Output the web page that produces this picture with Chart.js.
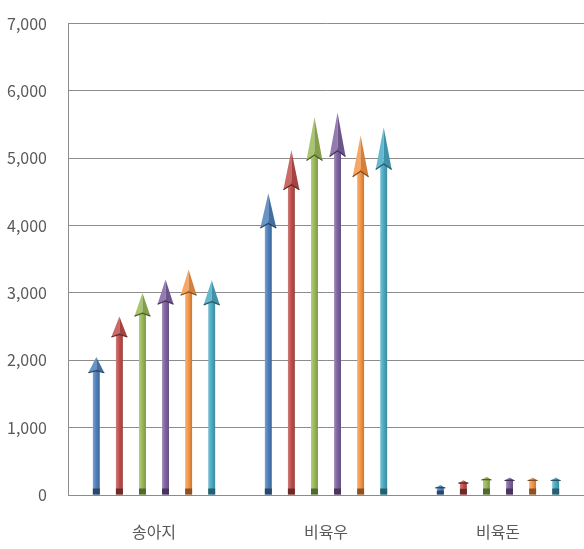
<!DOCTYPE html>
<html><head><meta charset="utf-8">
<script src="https://cdn.jsdelivr.net/npm/chart.js@4.4.0/dist/chart.umd.min.js"></script>
<style>html,body{margin:0;padding:0;background:#fff;overflow:hidden}#wrap{width:584px;height:556px;margin-top:-7px}</style>
</head><body><div id="wrap"><canvas id="c"></canvas></div>
<script>
const categories = ['송아지', '비육우', '비육돈'];
const series1 = [2050, 4480, 150];
const series2 = [2650, 5120, 220];
const series3 = [3000, 5610, 270];
const series4 = [3200, 5680, 260];
const series5 = [3350, 5340, 260];
const series6 = [3190, 5460, 260];
const yTicks = [0, 1000, 2000, 3000, 4000, 5000, 6000, 7000];

const colors = ['#4F81BD', '#C0504D', '#9BBB59', '#8064A2', '#F79646', '#4BACC6'];
const allSeries = [series1, series2, series3, series4, series5, series6];

function shade(hex, f) {
  const n = parseInt(hex.slice(1), 16);
  let r = n >> 16, g = (n >> 8) & 255, b = n & 255;
  if (f < 0) { r = r * (1 + f); g = g * (1 + f); b = b * (1 + f); }
  else { r = r + (255 - r) * f; g = g + (255 - g) * f; b = b + (255 - b) * f; }
  return `rgb(${Math.round(r)},${Math.round(g)},${Math.round(b)})`;
}

const arrowPlugin = {
  id: 'arrows',
  afterDatasetsDraw(chart) {
    const ctx = chart.ctx;
    chart.data.datasets.forEach((ds, di) => {
      const meta = chart.getDatasetMeta(di);
      meta.data.forEach((bar) => {
        const { x, y, base, width } = bar.getProps(['x', 'y', 'base', 'width'], true);
        const col = colors[di];
        const h = base - y;
        const hh = Math.max(3, h * 0.115);
        const hw = h > 60 ? 8 : 5;
        ctx.save();
        const g = ctx.createLinearGradient(x - width / 2, 0, x + width / 2, 0);
        g.addColorStop(0, shade(col, 0.25));
        g.addColorStop(0.45, col);
        g.addColorStop(1, shade(col, -0.2));
        ctx.fillStyle = g;
        ctx.fillRect(x - width / 2, y + hh * 0.8, width, h - hh * 0.8);
        const bs = Math.min(6, h * 0.4);
        ctx.fillStyle = shade(col, -0.45);
        ctx.fillRect(x - width / 2, base - bs, width, bs);
        ctx.fillStyle = shade(col, 0.15);
        ctx.beginPath();
        ctx.moveTo(x, y);
        ctx.lineTo(x, y + hh * 0.87);
        ctx.lineTo(x - hw, y + hh);
        ctx.closePath();
        ctx.fill();
        ctx.fillStyle = shade(col, -0.15);
        ctx.beginPath();
        ctx.moveTo(x, y);
        ctx.lineTo(x + hw, y + hh);
        ctx.lineTo(x, y + hh * 0.87);
        ctx.closePath();
        ctx.fill();
        ctx.strokeStyle = shade(col, -0.5);
        ctx.lineWidth = 1.2;
        ctx.beginPath();
        ctx.moveTo(x - hw, y + hh);
        ctx.lineTo(x, y + hh * 0.87);
        ctx.lineTo(x + hw, y + hh);
        ctx.stroke();
        ctx.restore();
      });
    });
  }
};

new Chart(document.getElementById('c'), {
  type: 'bar',
  data: {
    labels: categories,
    datasets: allSeries.map((s, i) => ({
      label: 'S' + (i + 1),
      data: s,
      backgroundColor: 'rgba(0,0,0,0)',
      borderWidth: 0
    }))
  },
  options: {
    responsive: true,
    maintainAspectRatio: false,
    animation: false,
    datasets: { bar: { categoryPercentage: 0.805, barPercentage: 0.3 } },
    layout: { padding: { top: 10, right: 0, left: 0, bottom: 0 } },
    plugins: { legend: { display: false }, tooltip: { enabled: false } },
    scales: {
      x: {
        grid: { display: false, drawTicks: false },
        border: { display: true, color: '#8c8c8c', width: 1 },
        ticks: { color: '#595959', padding: 27, font: { family: 'Noto Sans CJK KR', size: 16 } },
        afterFit: (s) => { s.height = 54; }
      },
      y: {
        min: 0, max: 7000,
        afterBuildTicks: (s) => { s.ticks = yTicks.map(v => ({ value: v })); },
        grid: { color: '#8c8c8c', lineWidth: 1, drawTicks: false },
        border: { display: true, color: '#8c8c8c', width: 1 },
        ticks: {
          color: '#595959', padding: 21,
          font: { family: 'Noto Sans CJK KR', size: 16 },
          callback: (v) => v.toLocaleString('en-US')
        },
        afterFit: (s) => { s.width = 68; }
      }
    }
  },
  plugins: [arrowPlugin]
});
</script></body></html>
